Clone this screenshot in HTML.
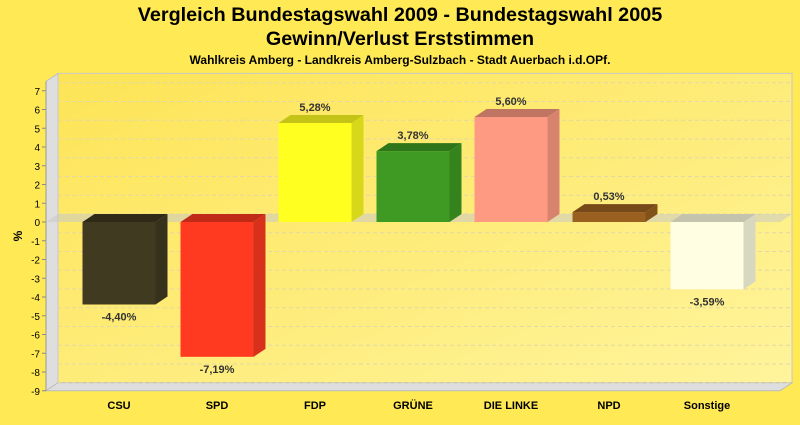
<!DOCTYPE html>
<html><head><meta charset="utf-8"><style>
body{margin:0;width:800px;height:420px;background:#ffe955;overflow:hidden;font-family:"Liberation Sans",sans-serif}
</style></head><body>
<svg width="800" height="420" xmlns="http://www.w3.org/2000/svg">
<defs>
<linearGradient id="wall" x1="0" y1="0" x2="1" y2="1"><stop offset="0" stop-color="#fde456"/><stop offset="1" stop-color="#fff49c"/></linearGradient>
</defs>
<text x="400" y="21" text-anchor="middle" font-size="19.8" font-weight="bold" fill="#000">Vergleich Bundestagswahl 2009 - Bundestagswahl 2005</text>
<text x="400" y="45" text-anchor="middle" font-size="19.8" font-weight="bold" fill="#000">Gewinn/Verlust Erststimmen</text>
<text x="400" y="64" text-anchor="middle" font-size="12" font-weight="bold" fill="#000">Wahlkreis Amberg - Landkreis Amberg-Sulzbach - Stadt Auerbach i.d.OPf.</text>
<g id="plot"></g>
<text x="22" y="236" text-anchor="middle" font-size="12" font-weight="bold" transform="rotate(-90 22 236)" fill="#000">%</text>
</svg>
<script>
const categories=["CSU","SPD","FDP","GRÜNE","DIE LINKE","NPD","Sonstige"];
const values=[-4.40,-7.19,5.28,3.78,5.60,0.53,-3.59];
const labels=["-4,40%","-7,19%","5,28%","3,78%","5,60%","0,53%","-3,59%"];
const ticks=[7,6,5,4,3,2,1,0,-1,-2,-3,-4,-5,-6,-7,-8,-9];
const colors=[["#403a20","#36311b","#2e2a17"],["#ff3a20","#d8311b","#c02b18"],["#ffff20","#d8d81b","#c4c418"],["#3e9a22","#35831d","#2f7519"],["#ff9a82","#d8836e","#c07562"],["#9a6020","#83521b","#754918"],["#fffde2","#d8d7c0","#c4c3ae"]];
const NS="http://www.w3.org/2000/svg",g=document.getElementById('plot');
const y=v=>222-v*18.75, x0=46,x1=780,DX=12,DY=-8;
const cx=i=>119+i*98, BW=73;
function mk(t,a){const e=document.createElementNS(NS,t);for(const k in a)e.setAttribute(k,a[k]);g.appendChild(e);return e;}
let e=mk('polygon',{points:`${x0},${y(7.5)} ${x0+DX},${y(7.5)+DY} ${x0+DX},${y(-9)+DY} ${x0},${y(-9)}`,fill:'#dedede',stroke:'#bbb'});

e=mk('rect',{x:x0+DX,y:y(7.5)+DY,width:x1-x0,height:y(-9)-y(7.5),fill:'url(#wall)',stroke:'#c8c8c8'});

e=mk('polygon',{points:`${x0},${y(-9)} ${x0+DX},${y(-9)+DY} ${x1+DX},${y(-9)+DY} ${x1},${y(-9)}`,fill:'#dedede',stroke:'#bbb'});

ticks.forEach(t=>{
 e=mk('line',{x1:x0+DX,x2:x1+DX,y1:y(t)+DY,y2:y(t)+DY,stroke:'#e2d8a8','stroke-dasharray':'4,3'});
 
 e=mk('line',{x1:x0-4,x2:x0,y1:y(t),y2:y(t),stroke:'#888'});
 
 e=mk('text',{x:x0-6,y:y(t)+4,'text-anchor':'end','font-size':'10',fill:'#000'});e.textContent=t;
 
});
e=mk('line',{x1:x0,x2:x0,y1:y(7.5),y2:y(-9),stroke:'#999'});

e=mk('polygon',{points:`${x0},${y(0)} ${x0+DX},${y(0)+DY} ${x1+DX},${y(0)+DY} ${x1},${y(0)}`,fill:'rgba(200,200,200,0.55)'});

values.forEach((v,i)=>{
 const l=cx(i)-BW/2,r=l+BW,t=y(Math.max(v,0)),b=y(Math.min(v,0)),c=colors[i];
 e=mk('polygon',{points:`${r},${t} ${r+DX},${t+DY} ${r+DX},${b+DY} ${r},${b}`,fill:c[1]});
 
 e=mk('polygon',{points:`${l},${t} ${l+DX},${t+DY} ${r+DX},${t+DY} ${r},${t}`,fill:c[2]});
 
 e=mk('rect',{x:l,y:t,width:BW,height:b-t,fill:c[0]});
 
 e=mk('text',{x:cx(i),y:v>=0?t-12:b+16,'text-anchor':'middle','font-size':'11','font-weight':'bold',fill:'#333'});e.textContent=labels[i];
 
 e=mk('text',{x:cx(i),y:409,'text-anchor':'middle','font-size':'11','font-weight':'bold',fill:'#000'});e.textContent=categories[i];
 
});
</script>
</body></html>
